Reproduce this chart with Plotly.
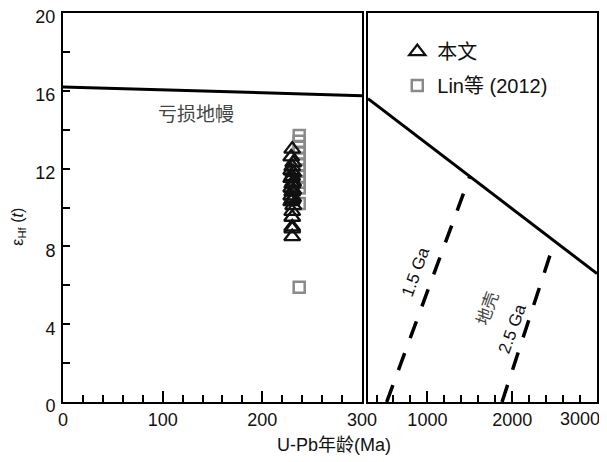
import plotly.graph_objects as go

# ---------------- data ----------------
tri_x = [230, 229, 231, 230, 229, 231, 230, 229, 231, 230, 229, 231, 230, 229, 231, 230, 229, 231, 230, 230, 230, 230, 230]
tri_y = [13.0, 12.6, 12.3, 12.1, 11.9, 11.8, 11.6, 11.5, 11.3, 11.2, 11.0, 10.9, 10.8, 10.6,
         10.5, 10.4, 10.3, 10.1, 9.8, 9.5, 9.0, 8.9, 8.5]
sq_x = [237, 237, 237, 237, 237, 237, 237, 237, 237, 237, 237, 237]
sq_y = [13.7, 13.4, 13.1, 12.8, 12.5, 12.2, 11.9, 11.6, 11.3, 11.0, 10.2, 5.9]

dm_left_x = [0, 300]
dm_left_y = [16.2, 15.75]
dm_right_x = [300, 3000]
dm_right_y = [15.6, 6.6]

ga15_x = [520, 1500]
ga15_y = [0, 11.6]
ga25_x = [1880, 2500]
ga25_y = [0, 8.27]

left_tickvals = [0, 100, 200, 300]
right_tickvals = [1000, 2000, 3000]
right_ticktext = ["1000", "2000", "3000"]
y_tickvals = [0, 4, 8, 12, 16, 20]

label_dm = ("亏损地幔", 133, 14.8)
label_15 = ("1.5 Ga", 866, 6.7)
label_25 = ("2.5 Ga", 2000, 3.8)
label_crust = ("地壳", 1716, 4.8)

FONT = "Liberation Sans, Arial, Noto Sans CJK SC"

fig = go.Figure()

# squares (drawn first, behind triangles)
fig.add_trace(go.Scatter(
    x=sq_x, y=sq_y, mode="markers", name="Lin等 (2012)",
    marker=dict(symbol="square-open", size=11, color="#8a8a8a", line=dict(width=2.5, color="#8a8a8a")),
    xaxis="x", yaxis="y", legendrank=2, legendgroup="b"))
fig.add_trace(go.Scatter(
    x=tri_x, y=tri_y, mode="markers", name="本文",
    marker=dict(symbol="triangle-up-open", size=14, color="#111", line=dict(width=2.3, color="#111")),
    xaxis="x", yaxis="y", legendrank=1, legendgroup="a"))

# depleted mantle lines
fig.add_trace(go.Scatter(x=dm_left_x, y=dm_left_y, mode="lines", line=dict(color="black", width=3),
                         showlegend=False, xaxis="x", yaxis="y"))
fig.add_trace(go.Scatter(x=dm_right_x, y=dm_right_y, mode="lines", line=dict(color="black", width=3),
                         showlegend=False, xaxis="x2", yaxis="y2"))
# crust evolution dashed lines
for gx, gy in [(ga15_x, ga15_y), (ga25_x, ga25_y)]:
    fig.add_trace(go.Scatter(x=gx, y=gy, mode="lines",
                             line=dict(color="black", width=3.5, dash="18px,16px"),
                             showlegend=False, xaxis="x2", yaxis="y2"))

axis_common = dict(showline=True, linecolor="black", linewidth=2, mirror=True,
                   showgrid=False, zeroline=False, automargin=False,
                   tickfont=dict(family=FONT, size=18, color="#111"))

# page body has an 8px default margin: size/margins compensate for it
fig.update_layout(
    width=599, height=454,
    margin=dict(l=55, r=10, t=5, b=60, autoexpand=False),
    paper_bgcolor="white", plot_bgcolor="white",
    font=dict(family=FONT, color="#111"),
    xaxis=dict(domain=[0, 0.5599], range=[0, 300], tickvals=left_tickvals,
               ticks="inside", ticklen=11, tickwidth=2, tickcolor="black", ticklabelstandoff=0,
               ticklabeloverflow="allow",
               minor=dict(ticks="inside", dtick=20, tick0=0, ticklen=7, tickwidth=1.5, tickcolor="black"),
               **axis_common),
    yaxis=dict(range=[0, 20], tickvals=y_tickvals, ticks="inside", ticklen=7, tickwidth=2,
               tickcolor="black", ticklabelstandoff=2, ticklabelshift=4, ticklabeloverflow="allow",
               minor=dict(ticks="inside", dtick=2, tick0=0, ticklen=7, tickwidth=2, tickcolor="black"),
               **axis_common),
    xaxis2=dict(domain=[0.5712, 1.0], range=[300, 3000], tickvals=right_tickvals,
                ticktext=right_ticktext[:2] + [""],
                ticks="inside", ticklen=11, tickwidth=2, tickcolor="black", ticklabelstandoff=0,
                ticklabeloverflow="allow",
                minor=dict(ticks="inside", dtick=200, tick0=0, ticklen=7, tickwidth=1.5, tickcolor="black"),
                anchor="y2", **axis_common),
    yaxis2=dict(range=[0, 20], anchor="x2", matches="y", showticklabels=False, ticks="",
                **axis_common),
    legend=dict(x=0.626, y=0.951, xanchor="left", yanchor="top", bgcolor="rgba(0,0,0,0)",
                font=dict(family=FONT, size=20, color="#111"), traceorder="grouped",
                tracegroupgap=5, itemwidth=30),
)

annots = [
    dict(text=label_dm[0], x=label_dm[1], y=label_dm[2], xref="x", yref="y", showarrow=False,
         font=dict(size=19, color="#444", family=FONT)),
    dict(text=label_15[0], x=label_15[1], y=label_15[2], xref="x2", yref="y2", showarrow=False,
         textangle=-70, font=dict(size=17, color="#111", family=FONT)),
    dict(text=label_25[0], x=label_25[1], y=label_25[2], xref="x2", yref="y2", showarrow=False,
         textangle=-70, font=dict(size=17, color="#111", family=FONT)),
    dict(text=label_crust[0], x=label_crust[1], y=label_crust[2], xref="x2", yref="y2", showarrow=False,
         textangle=-70, font=dict(size=17, color="#444", family=FONT)),
    # last tick label of the right panel, pulled inside the page like in the reference
    dict(text=right_ticktext[2], x=right_tickvals[2], y=0, xref="x2", yref="paper", showarrow=False,
         xanchor="right", yanchor="middle", xshift=5, yshift=-17,
         font=dict(size=18, color="#111", family=FONT)),
    dict(text="U-Pb年龄(Ma)", x=0.5075, y=-0.1105, xref="paper", yref="paper", showarrow=False,
         xanchor="center", yanchor="middle", font=dict(size=18, color="#111", family=FONT)),
    dict(text="ε<sub>Hf</sub> (<i>t</i>)", x=-0.083, y=0.45, xref="paper", yref="paper",
         showarrow=False, textangle=-90, xanchor="center", yanchor="middle",
         font=dict(size=16, color="#111", family=FONT)),
]
fig.update_layout(annotations=annots)

fig.write_html("out.html")
